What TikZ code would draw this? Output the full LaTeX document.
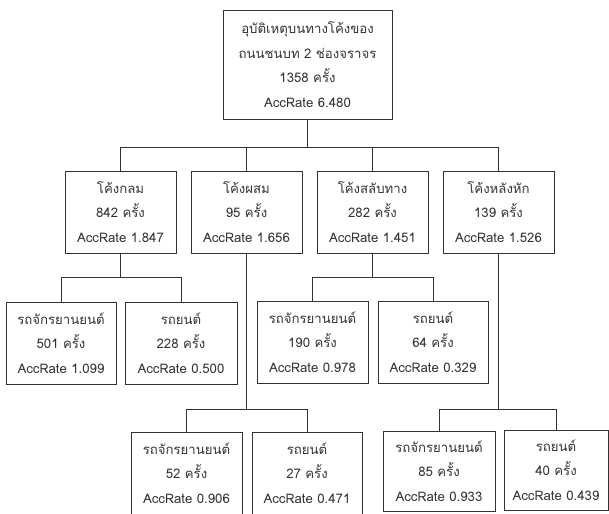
\documentclass[tikz,border=0pt]{standalone}
\usepackage{fontspec}
\setmainfont{Loma}[Script=Thai]
\usepackage{tikz}
\usetikzlibrary{positioning, calc}

\tikzset{
    box/.style={draw=black!80, line width=0.8pt, align=center, outer sep=0pt, inner sep=1pt,
        text=black!80, font=\fontsize{13.2}{24.6}\selectfont,
        minimum width=111pt, minimum height=82pt},
    link/.style={draw=black!80, line width=0.8pt}
}

\begin{document}
\begin{tikzpicture}[x=1pt, y=-1pt]
                    \useasboundingbox (0, 0) rectangle (609, 513);

                    \node[box, minimum width=169pt, minimum height=109pt] (root) at (307.5, 64.5)
                        {อุบัติเหตุบนทางโค้งของ\\ถนนชนบท 2 ช่องจราจร\\1358 ครั้ง\\AccRate 6.480};

                    \node[box] (n1) at (120.5, 212) {โค้งกลม\\842 ครั้ง\\AccRate 1.847};
                    \node[box] (n2) at (246.5, 212) {โค้งผสม\\95 ครั้ง\\AccRate 1.656};
                    \node[box] (n3) at (372.5, 212) {โค้งสลับทาง\\282 ครั้ง\\AccRate 1.451};
                    \node[box] (n4) at (498.5, 212) {โค้งหลังหัก\\139 ครั้ง\\AccRate 1.526};

                    \node[box, minimum width=110pt] (n11) at (61, 343) {รถจักรยานยนต์\\501 ครั้ง\\AccRate 1.099};
                    \node[box, minimum width=112pt] (n12) at (181, 343) {รถยนต์\\228 ครั้ง\\AccRate 0.500};

                    \node[box] (n31) at (312.5, 342) {รถจักรยานยนต์\\190 ครั้ง\\AccRate 0.978};
                    \node[box, minimum width=110pt] (n32) at (433, 342) {รถยนต์\\64 ครั้ง\\AccRate 0.329};

                    \node[box] (n21) at (186.5, 473) {รถจักรยานยนต์\\52 ครั้ง\\AccRate 0.906};
                    \node[box, minimum width=110pt] (n22) at (307, 473) {รถยนต์\\27 ครั้ง\\AccRate 0.471};

                    \node[box, minimum width=112pt, minimum height=80pt] (n41) at (439, 471) {รถจักรยานยนต์\\85 ครั้ง\\AccRate 0.933};
                    \node[box, minimum width=104pt, minimum height=80pt] (n42) at (556, 470) {รถยนต์\\40 ครั้ง\\AccRate 0.439};

                    % junction points of the buses
                    \coordinate (j0) at (307.5, 147);
                    \coordinate (j1) at (120.5, 277);
                    \coordinate (j2) at (246.5, 409);
                    \coordinate (j3) at (372.5, 277);
                    \coordinate (j4) at (498.5, 409);

                    \draw[link]
                    (root.south) -- (j0)
                    (j0) -| (n1.north)
                    (j0) -| (n2.north)
                    (j0) -| (n3.north)
                    (j0) -| (n4.north);

                    \draw[link]
                    (n1.south) -- (j1)
                    (j1) -| (n11.north)
                    (j1) -| (n12.north)
                    (n3.south) -- (j3)
                    (j3) -| (n31.north)
                    (j3) -| (n32.north)
                    (n2.south) -- (j2)
                    (j2) -| (n21.north)
                    (j2) -| (n22.north)
                    (n4.south) -- (j4)
                    (j4) -| (n41.north)
                    (j4) -| (n42.north);
                \end{tikzpicture}
\end{document}
